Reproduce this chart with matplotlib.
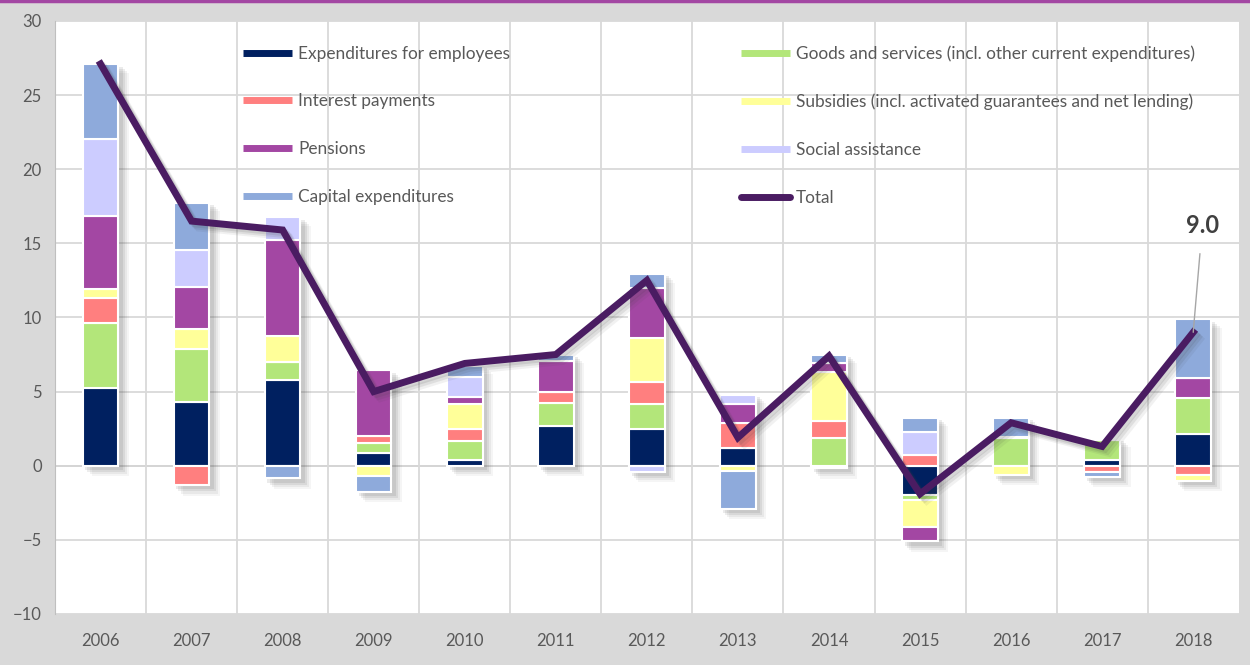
import numpy as np
import matplotlib.pyplot as plt
import matplotlib.patheffects as pe
from matplotlib.lines import Line2D

plt.rcParams['font.family'] = ['Lato', 'DejaVu Sans']

years = ['2006', '2007', '2008', '2009', '2010', '2011', '2012',
         '2013', '2014', '2015', '2016', '2017', '2018']

# contributions, percentage points
employees = [5.25, 4.3, 5.75, 0.85, 0.4, 2.7, 2.45, 1.2, -0.15, -2.0, 0.0, 0.4, 2.15]
goods = [4.35, 3.6, 1.25, 0.65, 1.25, 1.55, 1.7, 0.0, 1.85, -0.3, 1.85, 1.35, 2.45]
interest = [1.7, -1.3, 0.0, 0.5, 0.85, 0.75, 1.5, 1.65, 1.2, 0.75, 0.0, -0.45, -0.6]
subsidies = [0.6, 1.35, 1.75, -0.7, 1.65, 0.0, 2.95, -0.35, 3.3, -1.85, -0.6, 0.0, -0.4]
pensions = [4.95, 2.8, 6.5, 4.45, 0.5, 2.05, 3.4, 1.3, 0.55, -0.95, 0.1, 0.1, 1.3]
social = [5.2, 2.5, 1.5, 0.0, 1.35, 0.0, -0.4, 0.65, 0.0, 1.55, 0.0, 0.0, 0.0]
capital = [5.05, 3.2, -0.85, -1.05, 0.75, 0.45, 0.95, -2.55, 0.6, 0.95, 1.3, -0.3, 4.0]
total = [27.1, 16.5, 15.9, 5.0, 6.9, 7.5, 12.5, 1.9, 7.4, -1.9, 2.9, 1.3, 9.0]

names = ['Expenditures for employees',
         'Goods and services (incl. other current expenditures)',
         'Interest payments',
         'Subsidies (incl. activated guarantees and net lending)',
         'Pensions', 'Social assistance', 'Capital expenditures']
series = [employees, goods, interest, subsidies, pensions, social, capital]
colors = ['#002060', '#b3e67a', '#ff7f7f', '#ffff99', '#a347a3', '#ccccff', '#8eaadb']
line_color = '#4a1c62'
grid_color = '#d9d9d9'
text_color = '#595959'

fig = plt.figure(figsize=(12.5, 6.65), dpi=100, facecolor='#d9d9d9')
ax = fig.add_axes([0.044, 0.0767, 0.947, 0.8918])
ax.set_facecolor('white')

x = np.arange(len(years))
w = 0.39
data = np.array(series)

pos_top = np.clip(data, 0, None).sum(axis=0)
neg_bot = np.clip(data, None, 0).sum(axis=0)

# soft drop shadow: a few faint offset copies
soft = [pe.SimplePatchShadow(offset=(o, -o), shadow_rgbFace='#404040', alpha=a)
        for o, a in [(7, 0.05), (5.5, 0.07), (4, 0.09), (2.5, 0.1)]]
ax.bar(x, pos_top - neg_bot + 0.12, w + 0.02, bottom=neg_bot - 0.06, color='white',
       zorder=2, path_effects=soft + [pe.Normal()])

pb = np.zeros(len(years))
nb = np.zeros(len(years))
for vals, c in zip(series, colors):
    v = np.array(vals)
    bottom = np.where(v >= 0, pb, nb)
    ax.bar(x, v, w, bottom=bottom, color=c, edgecolor='white', linewidth=1.5, zorder=3)
    pb = pb + np.clip(v, 0, None)
    nb = nb + np.clip(v, None, 0)

line_soft = [pe.SimpleLineShadow(offset=(o, -o), shadow_color='#404040', alpha=a)
             for o, a in [(5, 0.07), (3.5, 0.1), (2, 0.12)]]
ax.plot(x, total, color=line_color, lw=5, zorder=5, solid_joinstyle='miter',
        path_effects=line_soft + [pe.Normal()])

ax.annotate(f'{total[-1]:.1f}', xy=(x[-1], total[-1]), xytext=(x[-1] + 0.1, 16.2),
            ha='center', va='center', fontsize=17, fontweight='bold', color='#404040',
            arrowprops=dict(arrowstyle='-', color='#a6a6a6', lw=1, shrinkA=10, shrinkB=0),
            zorder=6)

ax.set_xlim(-0.5, len(years) - 0.5)
ax.set_ylim(-10, 30)
ax.set_yticks(np.arange(-10, 31, 5))
ax.set_xticks(x)
ax.set_xticklabels(years)
ax.set_xticks(np.arange(0.5, len(years) - 1, 1), minor=True)
ax.grid(axis='y', color=grid_color, lw=1.3, zorder=0)
ax.grid(axis='x', which='minor', color=grid_color, lw=1.3, zorder=0)
ax.axhline(0, color='#a6a6a6', lw=1.2, zorder=1)
ax.tick_params(axis='both', which='both', length=0, colors=text_color, labelsize=12)
ax.tick_params(axis='y', pad=9.5)
ax.tick_params(axis='x', pad=14)
for s in ['top', 'right', 'bottom']:
    ax.spines[s].set_visible(False)
ax.spines['left'].set_color('#bfbfbf')

handles = [Line2D([], [], color=c, lw=5, solid_capstyle='butt') for c in colors]
handles.append(Line2D([], [], color=line_color, lw=5, solid_capstyle='round'))
labels = names + ['Total']
order = [0, 2, 4, 6, 1, 3, 5, 7]
leg = fig.legend([handles[i] for i in order], [labels[i] for i in order], ncol=2,
                 loc='upper left', bbox_to_anchor=(243 / 1250, 1 - 45 / 665), frameon=False,
                 fontsize=12.4, labelcolor=text_color, handlelength=2.85, handletextpad=0.35,
                 labelspacing=1.85, columnspacing=13.4, borderpad=0, borderaxespad=0)

fig.add_artist(Line2D([0, 1], [0.998, 0.998], transform=fig.transFigure, color='#a347a3', lw=2.5))

fig.savefig('out.png', dpi=100, facecolor=fig.get_facecolor())
